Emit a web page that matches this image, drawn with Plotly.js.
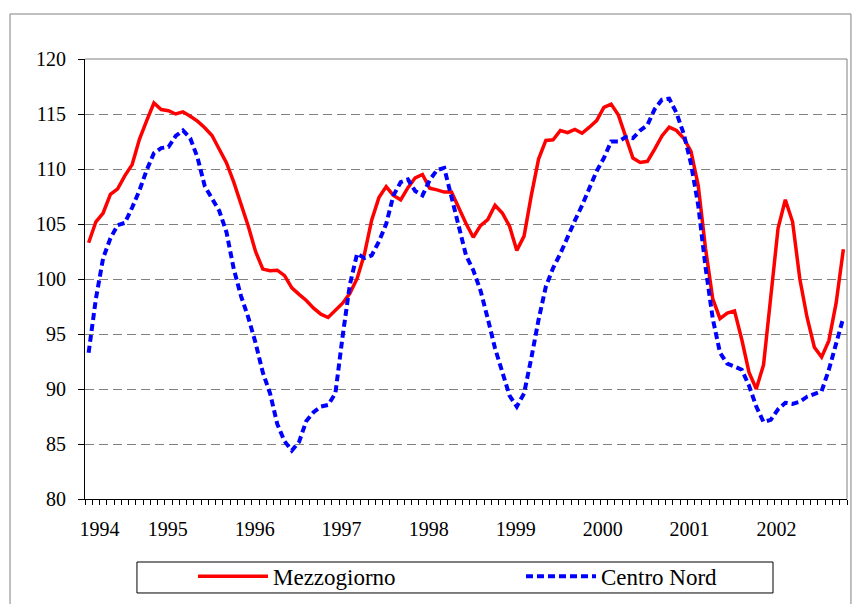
<!DOCTYPE html>
<html>
<head>
<meta charset="utf-8">
<script src="https://cdn.plot.ly/plotly-3.0.1.min.js"></script>
<style>
html, body { margin: 0; padding: 0; background: #ffffff; }
#chart { width: 854px; height: 604px; }
</style>
</head>
<body>
<div id="chart"></div>
<script>
// Monthly index values, Jan 1994 onwards (105 months)
const mezzogiorno = [
  103.3, 105.2, 106.0, 107.7, 108.2, 109.4, 110.4, 112.7, 114.4, 116.0,
  115.4, 115.3, 115.0, 115.2, 114.8, 114.35, 113.75, 113.05, 111.8, 110.55,
  108.8, 106.8, 104.8, 102.5, 100.9, 100.75, 100.8, 100.3, 99.2, 98.6,
  98.05, 97.35, 96.8, 96.5, 97.15, 97.8, 98.7, 100.05, 102.25, 105.35,
  107.4, 108.4, 107.6, 107.2, 108.3, 109.2, 109.5, 108.25, 108.1, 107.9,
  107.9, 106.4, 105.05, 103.8, 104.85, 105.4, 106.7, 106.0, 104.8, 102.6,
  103.9, 107.6, 110.9, 112.6, 112.65, 113.5, 113.3, 113.6, 113.25, 113.8,
  114.4, 115.6, 115.9, 114.9, 113.0, 111.0, 110.6, 110.7, 111.8, 113.0,
  113.8, 113.5, 112.8, 111.6, 108.5, 102.8, 98.2, 96.4, 96.9, 97.1,
  94.5, 91.5, 90.0, 92.2, 98.4, 104.6, 107.2, 105.2, 100.0, 96.5,
  93.8, 92.9, 94.4, 97.8, 102.7
];
const centroNord = [
  93.3, 98.2, 101.9, 103.7, 104.9, 105.1, 106.5, 108.05, 109.9, 111.45,
  111.9, 112.0, 113.0, 113.5, 112.8, 111.05, 108.45, 107.4, 106.2, 104.25,
  100.9, 98.45, 96.5, 94.2, 91.5, 89.6, 86.8, 85.25, 84.4, 85.2,
  87.1, 87.9, 88.4, 88.55, 89.6, 94.8, 99.5, 102.3, 101.9, 102.15,
  103.4, 105.0, 107.6, 108.8, 109.05, 108.0, 107.6, 109.0, 109.9, 110.1,
  107.5, 104.9, 102.15, 100.8, 98.95, 96.4, 93.7, 91.55, 89.4, 88.4,
  89.6, 92.8, 96.3, 99.3, 101.0, 102.3, 103.85, 105.3, 106.7, 108.25,
  109.8, 111.0, 112.5, 112.5, 112.9, 112.8, 113.5, 114.0, 115.45, 116.3,
  116.4, 115.1, 113.2, 110.5, 106.7, 101.1, 96.4, 93.3, 92.3, 92.05,
  91.75, 90.3, 88.4, 87.0, 87.2, 88.15, 88.75, 88.65, 88.85, 89.3,
  89.55, 89.8, 91.75, 94.3, 96.5
];
const yearLabels = ['1994', '1995', '1996', '1997', '1998', '1999', '2000', '2001', '2002'];
const yearLabelPos = [1.5, 10.9, 22.9, 34.85, 46.85, 58.85, 70.85, 82.8, 94.8];
const seriesNames = ['Mezzogiorno', 'Centro Nord'];

const monthIndex = mezzogiorno.map((_, i) => i);
const FONT = "'Liberation Serif', 'Times New Roman', 'DejaVu Serif', serif";

const traces = [
  {
    x: monthIndex, y: mezzogiorno, name: seriesNames[0], type: 'scatter', mode: 'lines',
    line: { color: '#ff0000', width: 3.5 }
  },
  {
    x: monthIndex, y: centroNord, name: seriesNames[1], type: 'scatter', mode: 'lines',
    line: { color: '#0000ff', width: 4, dash: '7px,4px' }
  }
];

const layout = {
  width: 854, height: 604,
  margin: { l: 85, r: 7, t: 59, b: 105, autoexpand: false },
  paper_bgcolor: '#ffffff', plot_bgcolor: '#ffffff',
  showlegend: true,
  font: { family: FONT, color: '#000000' },
  xaxis: {
    range: [-0.5, 104.5],
    tickmode: 'array', tickvals: yearLabelPos, ticktext: yearLabels,
    ticks: '', showgrid: false, zeroline: false,
    showline: true, linecolor: '#000000', linewidth: 1,
    tickfont: { family: FONT, size: 20, color: '#000000' },
    ticklabelstandoff: 12,
    minor: { tickmode: 'linear', tick0: -0.5, dtick: 1, ticks: 'outside', ticklen: 5, tickcolor: '#000000', tickwidth: 1, showgrid: false }
  },
  yaxis: {
    range: [80, 120], tickmode: 'linear', tick0: 80, dtick: 5,
    ticks: 'outside', ticklen: 6, tickcolor: '#000000', tickwidth: 1,
    showline: true, linecolor: '#000000', linewidth: 1,
    showgrid: true, gridcolor: '#808080', gridwidth: 1, griddash: '9px,5px',
    zeroline: false,
    tickfont: { family: FONT, size: 20, color: '#000000' },
    ticklabelstandoff: 8
  },
  legend: {
    orientation: 'h', x: 0.1417, y: -0.127, xanchor: 'left', yanchor: 'top',
    font: { family: FONT, size: 23, color: '#000000' },
    bgcolor: 'rgba(0,0,0,0)', borderwidth: 0,
    itemwidth: 70, entrywidth: 243, entrywidthmode: 'pixels'
  },
  shapes: [
    // plot area top and right border
    { type: 'line', xref: 'paper', yref: 'paper', x0: 0, x1: 1, y0: 1, y1: 1, line: { color: '#808080', width: 1 } },
    { type: 'line', xref: 'paper', yref: 'paper', x0: 1, x1: 1, y0: 0, y1: 1, line: { color: '#808080', width: 1 } },
    // outer chart frame
    { type: 'rect', xref: 'paper', yref: 'paper', x0: -0.0984, x1: 1.0052, y0: -0.26, y1: 1.1023, line: { color: '#808080', width: 1 }, fillcolor: 'rgba(0,0,0,0)' },
    // legend box
    { type: 'rect', xref: 'paper', yref: 'paper', x0: 0.0682, x1: 0.9029, y0: -0.2136, y1: -0.1432, line: { color: '#000000', width: 1 }, fillcolor: 'rgba(0,0,0,0)' }
  ]
};

Plotly.newPlot('chart', traces, layout, { displayModeBar: false, staticPlot: true });
</script>
</body>
</html>
